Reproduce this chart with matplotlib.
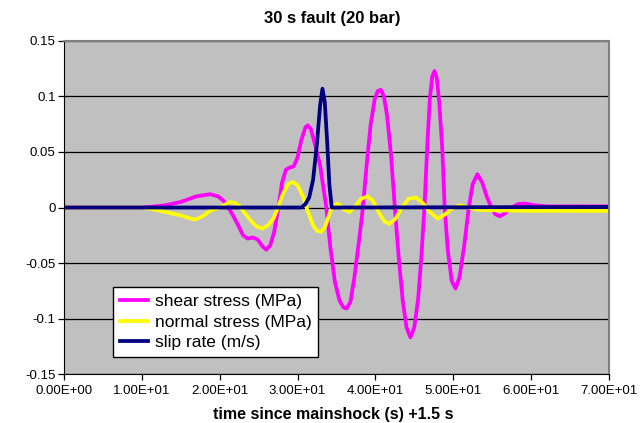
import matplotlib
matplotlib.use("Agg")
import matplotlib.pyplot as plt
from matplotlib.ticker import FuncFormatter

plt.rcParams['font.family'] = ['Liberation Sans', 'DejaVu Sans']

# values
shear_t = [0, 10, 11, 13, 15, 17, 18.75, 19.8, 20.5, 21.1, 21.7, 22.3, 23.0, 23.6,
           24.3, 24.9, 25.5, 26.0, 26.5, 27.0, 27.5, 28.0, 28.5, 29.0, 29.5, 30.0,
           30.5, 31.0, 31.3, 31.7, 32.2, 32.9, 33.7, 34.2, 34.8, 35.4, 35.9, 36.3,
           36.8, 37.3, 37.9, 38.4, 38.9, 39.4, 39.9, 40.3, 40.7, 41.1, 41.5, 42.0,
           42.5, 43.0, 43.5, 44.0, 44.5, 45.0, 45.5, 45.9, 46.3, 46.7, 47.0, 47.3,
           47.6, 47.9, 48.2, 48.6, 48.9, 49.3, 49.8, 50.3, 50.8, 51.4, 52.0, 52.5,
           53.1, 53.7, 54.3, 54.9, 55.4, 56.0, 56.7, 57.5, 58.3, 59.2, 60.5, 62, 70]
shear_v = [0, 0, 0.0005, 0.002, 0.005, 0.010, 0.012, 0.010, 0.006, 0.0, -0.007,
           -0.015, -0.025, -0.028, -0.027, -0.029, -0.035, -0.038, -0.034, -0.022,
           -0.002, 0.022, 0.034, 0.036, 0.037, 0.045, 0.061, 0.072, 0.074, 0.071,
           0.058, 0.038, 0.0, -0.035, -0.067, -0.084, -0.090, -0.091, -0.085, -0.063,
           -0.030, 0.0, 0.040, 0.075, 0.097, 0.105, 0.106, 0.100, 0.083, 0.048, 0.0,
           -0.045, -0.083, -0.108, -0.117, -0.108, -0.082, -0.045, 0.0, 0.060, 0.098,
           0.118, 0.123, 0.116, 0.095, 0.052, 0.0, -0.038, -0.066, -0.073, -0.063,
           -0.035, 0.0, 0.021, 0.030, 0.023, 0.010, 0.0, -0.006, -0.008, -0.005, 0.0,
           0.003, 0.0035, 0.002, 0.001, 0.001]

normal_t = [0, 10, 11, 13, 14.9, 16.8, 17.8, 18.75, 20.0, 21.3, 22.0, 22.6, 23.2,
            23.9, 24.7, 25.5, 26.2, 26.9, 27.5, 28.1, 28.8, 29.4, 30.0, 30.7, 31.3,
            32.0, 32.5, 33.0, 33.5, 34.0, 34.5, 35.2, 36.0, 36.7, 37.4, 38.2, 39.0,
            39.7, 40.4, 41.1, 41.8, 42.6, 43.4, 44.3, 45.2, 46.1, 47.0, 48.0, 49.0,
            50.0, 50.9, 52, 53, 55, 60, 70]
normal_v = [0, 0, -0.001, -0.004, -0.007, -0.011, -0.008, -0.003, 0.0, 0.005, 0.004,
            0.001, -0.005, -0.011, -0.017, -0.019, -0.016, -0.010, 0.0, 0.012, 0.021,
            0.023, 0.020, 0.010, -0.003, -0.016, -0.021, -0.022, -0.018, -0.008,
            0.002, 0.0035, -0.002, -0.004, 0.001, 0.008, 0.010, 0.006, -0.004, -0.012,
            -0.015, -0.010, 0.0, 0.008, 0.009, 0.004, -0.004, -0.010, -0.006, 0.0,
            0.002, 0.0, -0.002, -0.0025, -0.003, -0.003]

slip_t = [0, 30.5, 31.0, 31.5, 32.0, 32.5, 32.9, 33.2, 33.5, 33.8, 34.1, 34.4, 70]
slip_v = [0, 0, 0.003, 0.009, 0.025, 0.058, 0.092, 0.107, 0.095, 0.060, 0.020, 0.0, 0.0005]

y_ticks = [-0.15, -0.1, -0.05, 0, 0.05, 0.1, 0.15]
y_labels = ['-0.15', '-0.1', '-0.05', '0', '0.05', '0.1', '0.15']
x_ticks = [0, 10, 20, 30, 40, 50, 60, 70]

fig = plt.figure(figsize=(6.43, 4.23), dpi=100)
ax = fig.add_axes([0.0995, 0.1158, 0.8475, 0.7873])
ax.set_facecolor('#C0C0C0')

ax.plot(shear_t, shear_v, color='#FF00FF', lw=2.7, label='shear stress (MPa)')
ax.plot(normal_t, normal_v, color='#FFFF00', lw=2.7, label='normal stress (MPa)')
ax.plot(slip_t, slip_v, color='#000080', lw=2.7, label='slip rate (m/s)')

ax.set_xlim(0, 70)
ax.set_ylim(-0.15, 0.15)
ax.set_xticks(x_ticks)
ax.xaxis.set_major_formatter(FuncFormatter(lambda v, p: f"{v:.2E}"))
ax.set_yticks(y_ticks)
ax.set_yticklabels(y_labels)
ax.yaxis.grid(True, color='black', lw=0.9)
ax.set_axisbelow(True)
ax.tick_params(labelsize=9.5, length=4, width=0.9, color='black', pad=2)
ax.tick_params(axis='x', pad=4)

for s in ['left', 'bottom']:
    ax.spines[s].set_color('black')
for s in ['top', 'right']:
    ax.spines[s].set_color('#808080')
    ax.spines[s].set_linewidth(1.5)

fig.text(0.517, 1 - 18 / 423, '30 s fault (20 bar)', fontsize=12, fontweight='bold',
         ha='center', va='center')
fig.text(0.519, 1 - 414 / 423, 'time since mainshock (s) +1.5 s', fontsize=11.5,
         fontweight='bold', ha='center', va='center')

leg = ax.legend(loc='lower left', bbox_to_anchor=(0.09, 0.051), borderaxespad=0,
                fontsize=12.5, fancybox=False, framealpha=1, edgecolor='black',
                handlelength=1.6, handletextpad=0.4, borderpad=0.4, labelspacing=0.3)
leg.get_frame().set_linewidth(1.0)

fig.savefig('out.png', dpi=100)
